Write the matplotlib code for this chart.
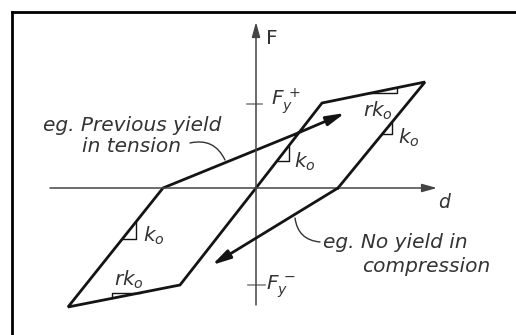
import matplotlib.pyplot as plt
from matplotlib.lines import Line2D

# hysteresis envelope (d, F), drawn as one polyline
d_path = [8.2, 16.9, 6.6, 0.0, -7.6, -18.8, -9.3, 4.2]
F_path = [0.0, 10.6, 8.5, 0.0, -9.7, -11.9, 0.0, 5.5]
# reloading branch ("previous yield in tension") and unloading branch
tension_d = [4.2, 8.9]
tension_F = [5.5, 7.5]
comp_d = [8.2, -4.4]
comp_F = [0.0, -7.7]
Fy_pos = 8.4
Fy_neg = -9.7

ink = '#141414'
txt = '#333333'
fs = 14.5

fig = plt.figure(figsize=(5.16, 3.35), dpi=100)
ax = fig.add_axes([0, 0, 1, 1])
ax.set_xlim(-25.6, 26.0)
ax.set_ylim(-14.7, 18.8)
ax.axis('off')

# frame (only left and top edges are inside the crop)
fig.add_artist(Line2D([11.5 / 516, 11.5 / 516], [0, 1 - 11.5 / 335], color='black', lw=2.0))
fig.add_artist(Line2D([11.5 / 516, 1], [1 - 11.5 / 335, 1 - 11.5 / 335], color='black', lw=2.0))

# coordinate axes
axstyle = dict(arrowstyle='-|>,head_length=0.9,head_width=0.25', color='#444444', lw=1.1,
               shrinkA=0, shrinkB=0)
ax.annotate('', xy=(18.1, 0), xytext=(-20.6, 0), arrowprops=axstyle)
ax.annotate('', xy=(0, 16.6), xytext=(0, -11.7), arrowprops=axstyle)
ax.text(1.0, 15.0, 'F', fontsize=fs, color=txt, va='center', ha='left')
ax.text(18.2, -1.4, 'd', fontsize=fs - 1, color=txt, va='center', ha='left', style='italic')

# yield force ticks
ax.plot([-0.9, 0.6], [Fy_pos, Fy_pos], color='#888888', lw=1.2)
ax.plot([-0.8, 0.9], [Fy_neg, Fy_neg], color='#888888', lw=1.2)
ax.text(1.5, Fy_pos + 0.3, r'$F_y^{\,+}$', fontsize=fs, color=txt, va='center', ha='left')
ax.text(1.0, Fy_neg - 0.2, r'$F_y^{\,-}$', fontsize=fs, color=txt, va='center', ha='left')

# loop
ax.plot(d_path, F_path, color=ink, lw=2.0, solid_joinstyle='miter')
arr = dict(arrowstyle='-|>,head_length=1.1,head_width=0.28', color=ink, lw=2.0,
           shrinkA=0, shrinkB=0)
ax.annotate('', xy=(tension_d[1], tension_F[1]), xytext=(tension_d[0], tension_F[0]), arrowprops=arr)
ax.annotate('', xy=(comp_d[1], comp_F[1]), xytext=(comp_d[0], comp_F[0]), arrowprops=arr)


def slope_tri(i0, i1, x0, w, below=True):
    # small slope triangle against segment i0-i1 of the envelope
    xa, ya, xb, yb = d_path[i0], F_path[i0], d_path[i1], F_path[i1]
    s = (yb - ya) / (xb - xa)
    y0 = ya + s * (x0 - xa)
    y1 = y0 + s * w
    if below:
        xs, ys = [x0, x0 + w, x0 + w], [y0, y0, y1]
    else:
        xs, ys = [x0, x0, x0 + w], [y0, y1, y1]
    ax.plot(xs, ys, color=ink, lw=1.0)


slope_tri(3, 2, 2.1, 1.2)
slope_tri(1, 0, 12.6, 1.0)
slope_tri(5, 6, -13.4, 1.4)
slope_tri(2, 1, 11.4, 2.7)
slope_tri(5, 4, -14.4, 2.8, below=False)

ax.text(4.9, 2.6, r'$k_o$', fontsize=fs, color=txt, ha='center', va='center')
ax.text(15.3, 5.0, r'$k_o$', fontsize=fs, color=txt, ha='center', va='center')
ax.text(-10.2, -4.8, r'$k_o$', fontsize=fs, color=txt, ha='center', va='center')
ax.text(12.2, 7.7, r'$rk_o$', fontsize=fs, color=txt, ha='center', va='center')
ax.text(-12.7, -9.2, r'$rk_o$', fontsize=fs, color=txt, ha='center', va='center')

# annotations
ax.text(-12.4, 5.2, 'eg. Previous yield\nin tension', fontsize=fs, color=txt, style='italic',
        ha='center', va='center', multialignment='center', linespacing=1.15)
ax.annotate('', xy=(-3.1, 2.8), xytext=(-6.6, 4.5),
            arrowprops=dict(arrowstyle='-', color=txt, lw=1.0, shrinkA=0, shrinkB=0,
                            connectionstyle='arc3,rad=-0.4'))
ax.text(6.7, -5.5, 'eg. No yield in', fontsize=fs, color=txt, style='italic', ha='left', va='center')
ax.text(10.6, -7.9, 'compression', fontsize=fs, color=txt, style='italic', ha='left', va='center')
ax.annotate('', xy=(3.9, -3.0), xytext=(6.4, -5.4),
            arrowprops=dict(arrowstyle='-', color=txt, lw=1.0, shrinkA=0, shrinkB=0,
                            connectionstyle='arc3,rad=-0.4'))

fig.savefig('out.png', dpi=100)
